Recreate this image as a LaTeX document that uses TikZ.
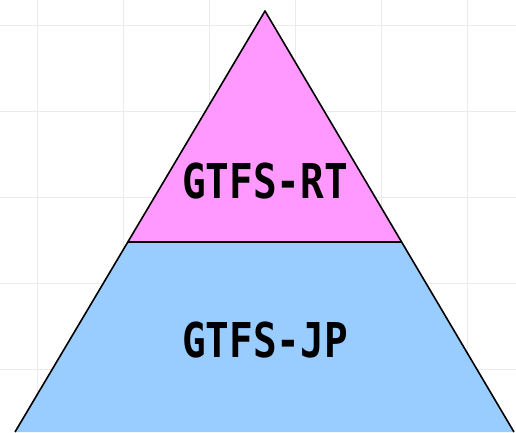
\documentclass[tikz,border=0pt]{standalone}
\usepackage{fontspec}
\newfontfamily\layerfont[FakeStretch=0.82]{DejaVu Sans Mono}
\definecolor{rtpink}{HTML}{FF99FF}
\definecolor{jpblue}{HTML}{99CCFF}
\definecolor{gridgray}{HTML}{EBEBEB}

\begin{document}
\begin{tikzpicture}[x=1pt, y=-1pt,
    gridline/.style={gridgray, line width=1pt},
    edge/.style={black, line width=1.6pt, line join=round},
    layerlabel/.style={font=\layerfont\bfseries\fontsize{48}{48}\selectfont, inner sep=0pt}]
        % canvas and background grid
        \useasboundingbox[fill=white] (0,0) rectangle (516,432);
        \foreach \gx in {37,123,209,295,381,467}
            \draw[gridline] (\gx,0) -- (\gx,432);
        \foreach \gy in {25,111,197,283,369}
            \draw[gridline] (0,\gy) -- (516,\gy);
        % corners of the pyramid
        \coordinate (apex) at (265, 11);
        \coordinate (midL) at (128, 242);
        \coordinate (midR) at (401, 242);
        \coordinate (baseL) at (15, 432);
        \coordinate (baseR) at (514, 432);
        % layers
        \fill[jpblue] (midL) -- (midR) -- (baseR) -- (baseL) -- cycle;
        \fill[rtpink] (apex) -- (midR) -- (midL) -- cycle;
        \draw[edge] (baseL) -- (apex) -- (baseR);
        \draw[edge] (midL) -- (midR);
        % labels
        \node[layerlabel] (rt) at (265, 181){GTFS-RT};
        \node[layerlabel] (jp) at (265, 340){GTFS-JP};
    \end{tikzpicture}
\end{document}
